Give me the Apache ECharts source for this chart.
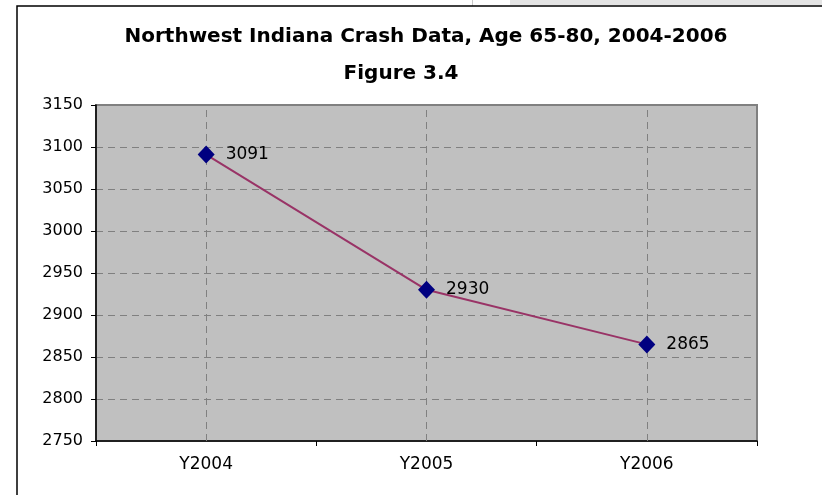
<!DOCTYPE html>
<html>
<head>
<meta charset="utf-8">
<script src="https://cdn.jsdelivr.net/npm/echarts@6/dist/echarts.min.js"></script>
<style>
html,body{margin:0;padding:0;background:#fff;}
#chart{width:822px;height:495px;}
</style>
</head>
<body>
<div id="chart"></div>
<script>
var categories = ['Y2004', 'Y2005', 'Y2006'];
var crashValues = [3091, 2930, 2865];
var titleText = 'Northwest Indiana Crash Data, Age 65-80, 2004-2006';
var subTitleText = 'Figure 3.4';

var chart = echarts.init(document.getElementById('chart'), null, {renderer: 'canvas'});
var font = '"DejaVu Sans", sans-serif';
chart.setOption({
  backgroundColor: '#ffffff',
  animation: false,
  title: [
    {
      text: titleText, left: 421, top: 22, textAlign: 'center',
      textStyle: {fontFamily: font, fontSize: 20, fontWeight: 'bold', color: '#000'}
    },
    {
      text: subTitleText, left: 396, top: 59, textAlign: 'center',
      textStyle: {fontFamily: font, fontSize: 20, fontWeight: 'bold', color: '#000'}
    }
  ],
  graphic: [
    {type: 'rect', shape: {x: 510, y: 0, width: 320, height: 5}, style: {fill: '#e4e4e4'}, z: 0},
    {type: 'line', shape: {x1: 472.5, y1: 0, x2: 472.5, y2: 6}, style: {stroke: '#c8c8c8', lineWidth: 1}},
    {type: 'rect', shape: {x: 17, y: 6, width: 900, height: 600}, style: {fill: null, stroke: '#000', lineWidth: 1.5}, z: 0}
  ],
  grid: {
    left: 96, right: 65, top: 105, bottom: 54,
    show: true, backgroundColor: '#c0c0c0', borderColor: '#808080', borderWidth: 2
  },
  xAxis: {
    type: 'category', data: categories, boundaryGap: true,
    axisLine: {lineStyle: {color: '#000', width: 1.5}},
    axisTick: {show: true, length: 5, lineStyle: {color: '#000'}},
    axisLabel: {fontFamily: font, fontSize: 17, color: '#000', margin: 15},
    splitLine: {show: false}
  },
  yAxis: {
    type: 'value', min: 2750, max: 3150, interval: 50,
    axisLine: {show: true, lineStyle: {color: '#000', width: 1.5}},
    axisTick: {show: true, length: 5, lineStyle: {color: '#000'}},
    axisLabel: {fontFamily: font, fontSize: 16, color: '#000', margin: 13,
      formatter: function (v) { return String(v); }},
    splitLine: {show: true, lineStyle: {color: '#808080', type: [7, 5], width: 1}}
  },
  series: [{
    type: 'line', data: crashValues,
    symbol: 'diamond', symbolSize: [17, 18],
    itemStyle: {color: '#000080'},
    lineStyle: {color: '#993366', width: 2},
    label: {show: true, position: 'right', distance: 11, fontFamily: font, fontSize: 17, color: '#000'},
    markLine: {
      silent: true, symbol: 'none', label: {show: false},
      lineStyle: {color: '#808080', type: [7, 5], width: 1},
      data: categories.map(function (c) { return {xAxis: c}; }),
      z: 1
    }
  }]
});
</script>
</body>
</html>
